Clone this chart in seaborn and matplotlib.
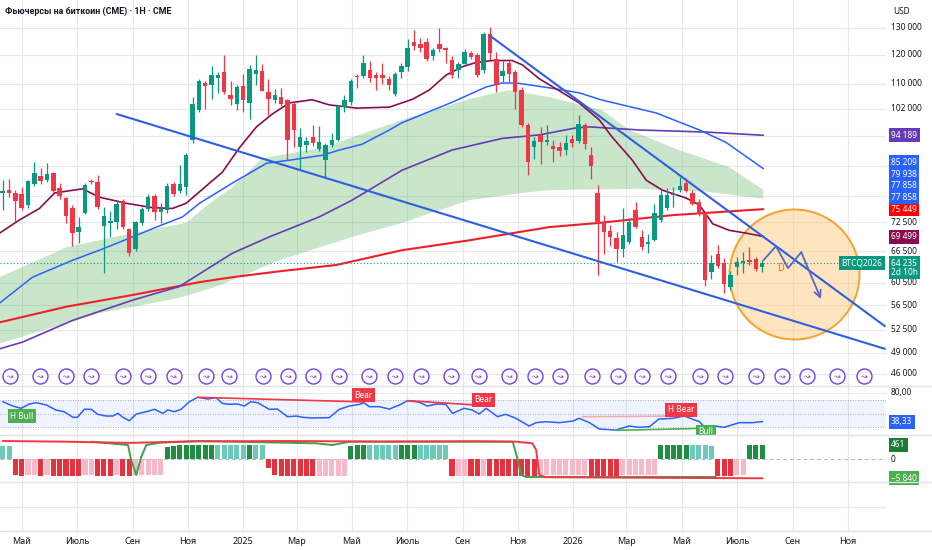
import numpy as np
import pandas as pd
import matplotlib as mpl
import matplotlib.pyplot as plt
import matplotlib.dates as mdates
import matplotlib.transforms as mtransforms
from matplotlib.lines import Line2D
import seaborn as sns

sns.set_style("white")
mpl.rcParams["font.family"] = ["Noto Sans", "DejaVu Sans"]

# ------------------------------------------------------------
# Data (prices in thousands of USD, weekly candles)
# ------------------------------------------------------------

open_k = [
    79.3, 79.9, 79.3, 79.0, 76.3, 81.3, 83.3, 82.3, 84.0, 80.3,
    78.1, 75.6, 70.4, 74.6, 82.1, 81.8, 71.7, 72.3, 72.6, 77.3,
    71.1, 67.0, 72.4, 75.4, 78.4, 74.9, 75.2, 81.3, 79.7, 80.6,
    92.8, 101.6, 110.3, 109.4, 111.9, 114.0, 106.3, 103.4, 109.2, 103.7,
    113.2, 114.3, 107.4, 104.7, 105.7, 104.7, 103.6, 91.0, 91.6, 93.6,
    90.3, 87.4, 91.4, 93.0, 102.6, 104.0, 112.5, 112.4, 114.6, 113.0,
    112.9, 111.6, 106.6, 114.0, 115.5, 124.7, 123.8, 124.7, 119.4, 123.9,
    122.5, 118.1, 114.7, 116.8, 120.6, 120.0, 114.6, 127.8, 118.6, 112.7,
    116.9, 114.0, 107.9, 97.2, 91.0, 94.3, 92.3, 91.2, 91.0, 90.1,
    93.1, 92.5, 97.2, 88.7, 79.3, 72.7, 70.6, 69.2, 67.0, 68.3,
    75.2, 69.3, 68.0, 68.8, 73.0, 75.6, 78.7, 79.8, 81.6, 79.1,
    77.1, 74.5, 62.5, 65.9, 64.2, 59.8, 63.4, 64.1, 64.7, 65.0, 63.5,
]
high_k = [
    82.3, 82.5, 79.9, 80.7, 82.3, 86.9, 85.5, 86.7, 84.4, 81.5,
    78.2, 76.3, 73.6, 81.5, 82.6, 83.7, 75.9, 75.1, 77.5, 77.8,
    71.4, 72.8, 75.9, 78.9, 78.9, 76.8, 81.5, 81.8, 86.1, 89.3,
    105.6, 111.4, 110.8, 115.9, 114.0, 120.0, 110.8, 109.6, 113.2, 116.4,
    120.0, 116.8, 111.5, 108.2, 108.5, 105.0, 104.0, 96.2, 93.6, 97.2,
    96.9, 92.1, 94.8, 103.3, 106.3, 111.5, 113.2, 119.7, 117.6, 114.0,
    117.0, 112.5, 114.0, 117.2, 125.6, 129.2, 126.0, 126.0, 122.3, 130.0,
    122.7, 119.4, 117.5, 122.0, 121.4, 120.5, 128.3, 130.3, 121.0, 117.7,
    118.0, 114.6, 109.0, 97.6, 93.8, 96.6, 97.2, 93.0, 92.4, 94.3,
    94.3, 100.0, 97.6, 91.0, 81.1, 74.1, 71.9, 70.5, 75.6, 73.4,
    77.1, 70.8, 70.1, 76.7, 79.9, 80.5, 80.7, 83.2, 82.8, 79.9,
    77.9, 75.1, 65.7, 67.7, 65.1, 62.7, 65.4, 66.3, 67.4, 65.4, 64.7,
]
low_k = [
    75.2, 78.3, 72.6, 75.2, 75.8, 80.9, 81.3, 81.8, 79.5, 77.9,
    72.3, 67.5, 68.2, 74.4, 81.3, 75.5, 62.2, 69.4, 71.0, 71.0,
    65.5, 66.6, 72.0, 75.0, 73.0, 72.3, 74.6, 78.5, 79.2, 78.7,
    91.9, 101.0, 101.8, 105.0, 107.1, 106.5, 103.2, 101.6, 101.1, 98.9,
    109.6, 107.5, 100.2, 103.8, 103.0, 87.4, 91.0, 85.2, 89.6, 91.2,
    89.9, 83.0, 90.9, 92.6, 101.1, 103.2, 108.5, 111.8, 110.5, 108.0,
    110.0, 108.0, 106.0, 111.8, 114.3, 121.8, 120.8, 117.6, 118.0, 121.0,
    116.9, 112.0, 112.0, 116.0, 118.5, 112.2, 113.6, 118.0, 107.3, 110.6,
    110.6, 101.8, 96.5, 83.6, 87.8, 86.5, 91.4, 87.0, 88.5, 88.7,
    91.0, 92.0, 90.5, 82.7, 61.9, 66.0, 67.5, 64.4, 65.4, 68.0,
    71.2, 66.7, 66.2, 68.5, 72.6, 75.2, 76.0, 79.4, 79.5, 76.4,
    73.9, 59.9, 61.1, 63.2, 58.6, 59.2, 61.9, 62.2, 63.8, 62.6, 62.5,
]
close_k = [
    79.7, 79.1, 77.4, 75.6, 82.0, 84.1, 82.1, 83.8, 79.7, 78.5,
    73.9, 70.2, 71.5, 81.2, 81.8, 75.9, 73.9, 72.9, 76.7, 71.6,
    66.2, 72.5, 75.4, 78.2, 74.9, 75.4, 81.0, 79.0, 81.3, 88.9,
    103.4, 111.0, 109.2, 112.9, 112.9, 107.2, 105.0, 108.9, 104.7, 114.9,
    114.6, 107.7, 104.9, 106.3, 103.6, 93.0, 95.7, 93.7, 92.6, 92.0,
    92.3, 91.4, 92.8, 102.9, 104.7, 111.0, 112.2, 116.9, 111.8, 111.9,
    111.9, 109.7, 113.2, 115.9, 122.4, 123.0, 122.5, 118.3, 121.7, 122.1,
    121.7, 112.9, 116.8, 121.0, 119.3, 112.9, 127.7, 120.5, 109.7, 114.3,
    113.1, 107.2, 97.2, 87.0, 92.6, 92.2, 92.9, 90.3, 89.8, 92.1,
    92.0, 97.5, 91.8, 85.8, 72.4, 70.4, 69.4, 67.0, 69.8, 72.6,
    71.5, 67.4, 68.3, 74.5, 78.7, 78.7, 79.0, 80.9, 79.7, 76.7,
    74.3, 61.0, 64.2, 63.6, 60.3, 61.9, 64.4, 64.5, 64.3, 63.0, 64.235,
]

# moving averages, sampled as (week index, price)
ma20_idx = [-0.5, 2.6, 5.8, 8.2, 12.6, 15.3, 19.5, 23.6, 26.8, 29.0,
            31.1, 34.7, 37.4, 40.1, 42.6, 45.3, 48.9, 51.6, 55.9, 61.1,
            64.7, 67.4, 70.1, 72.6, 74.8, 77.4, 80.5, 82.1, 84.8, 88.0,
            91.1, 94.3, 96.3, 99.5, 101.7, 104.2, 108.0, 110.1, 112.2, 114.8,
            117.5, 120.2]
ma20_k = [70.2, 73.0, 75.6, 79.2, 80.2, 78.2, 76.8, 75.8, 75.6, 76.8,
          79.5, 84.3, 90.7, 96.6, 100.4, 103.8, 104.8, 103.2, 102.2, 102.5,
          104.9, 107.9, 112.9, 115.7, 117.2, 117.9, 117.9, 116.4, 111.6, 107.6,
          103.8, 98.6, 93.7, 87.4, 82.3, 79.9, 78.0, 76.4, 72.2, 70.8,
          70.2, 69.499]

ma50_idx = [-0.5, 4.7, 11.0, 15.3, 20.5, 24.3, 28.4, 31.1, 36.3, 41.7,
            45.3, 50.5, 53.2, 56.8, 61.1, 63.1, 71.0, 76.4, 78.9, 81.2,
            86.4, 91.1, 94.7, 103.3, 110.1, 114.3, 120.2]
ma50_k = [56.9, 61.5, 64.7, 66.7, 69.4, 71.5, 73.7, 76.8, 81.6, 86.6,
          87.4, 88.7, 90.1, 91.7, 95.7, 97.8, 104.0, 108.9, 110.2, 110.2,
          108.6, 107.0, 104.7, 100.7, 95.7, 92.2, 85.209]

ma100_idx = [-0.5, 3.1, 11.0, 20.5, 27.9, 36.3, 42.1, 50.0, 55.2, 63.1,
             71.0, 78.9, 84.8, 90.6, 92.7, 100.6, 111.2, 120.2]
ma100_k = [49.6, 50.6, 54.0, 57.4, 59.8, 66.1, 69.4, 73.7, 77.5, 84.8,
           90.1, 93.3, 94.3, 96.3, 96.6, 95.7, 95.1, 94.189]

ma200_idx = [-0.5, 10.1, 20.5, 31.1, 36.3, 43.7, 52.7, 63.1, 73.7, 86.4,
             94.3, 105.8, 120.2]
ma200_k = [53.7, 56.3, 58.3, 60.6, 61.5, 62.6, 63.8, 66.7, 68.7, 71.5,
           72.4, 74.1, 75.449]

band_top_idx = [-0.5, 10.1, 20.5, 29.0, 32.2, 36.3, 41.0, 43.7, 50.5, 55.2,
                63.1, 73.7, 80.0, 86.4, 94.7, 99.0, 106.9, 114.8, 120.2]
band_top_k = [61.5, 67.3, 70.2, 72.4, 76.2, 80.6, 87.9, 88.7, 90.7, 93.6,
              98.6, 105.0, 107.9, 105.6, 101.6, 95.7, 90.1, 85.6, 79.938]
band_bot_idx = [-0.5, 15.3, 27.9, 33.8, 43.7, 55.2, 63.1, 73.7, 82.1, 86.4,
                100.6, 111.2, 120.2]
band_bot_k = [50.4, 55.2, 57.8, 59.8, 64.7, 69.4, 72.4, 77.5, 79.2, 79.9,
              80.2, 79.5, 77.858]

# drawn trend lines and projection
trend_low_idx = [18.0, 139.4]
trend_low_k = [100.4, 49.6]
trend_high_idx = [77.0, 139.4]
trend_high_k = [127.0, 53.1]
proj_idx = [120.2, 122.2, 124.1, 126.2, 129.3]
proj_k = [64.7, 67.5, 63.2, 66.3, 57.6]
zone_idx, zone_k = 125.1, 62.1
d_idx, d_k = 122.9, 63.3

# event markers along the bottom of the price pane
event_weeks = [1.1, 5.9, 10.0, 14.0, 19.0, 23.0, 27.0, 32.1, 35.8, 41.1,
               45.1, 49.1, 53.1, 57.9, 62.0, 66.1, 70.9, 75.2, 80.0, 84.1,
               88.1, 93.1, 97.2, 101.1, 105.2, 110.2, 114.2, 119.1, 123.1,
               127.1, 131.9, 136.1]

# price axis
tick_k = [130, 120, 110, 102, 94, 86, 78.5, 72.5, 66.5, 60.5, 56.5, 52.5, 49, 46]
tick_text = ["130 000", "120 000", "110 000", "102 000", "", "", "", "72 500",
             "66 500", "60 500", "56 500", "52 500", "49 000", "46 000"]
last_values = [94189, 85209, 79938, 77858, 77858, 75449, 69499]
last_colors = ["#673ab7", "#2962ff", "#2962ff", "#2962ff", "#2962ff",
               "#ff0000", "#880e4f"]
last_price = 64235

# RSI pane
rsi_idx = [0, 1.6, 2.9, 4.2, 5.3, 6.9, 8.4, 9.7, 11.1, 11.8,
           12.9, 14.0, 15.0, 16.3, 17.4, 18.2, 19.0, 20.0, 21.1, 22.7,
           24.0, 25.3, 26.1, 27.1, 28.2, 29.5, 30.8, 32.4, 33.7, 34.7,
           35.8, 37.1, 38.2, 39.2, 40.3, 42.1, 43.4, 45.0, 46.4, 47.4,
           49.0, 51.6, 53.2, 54.8, 56.4, 57.1, 57.9, 59.5, 61.1, 62.7,
           64.0, 65.8, 67.1, 68.5, 70.0, 71.1, 72.9, 74.2, 75.3, 76.4,
           78.2, 79.5, 81.1, 83.2, 84.3, 85.8, 88.0, 90.1, 91.1, 92.7,
           94.3, 96.9, 99.0, 100.6, 102.2, 103.7, 105.9, 107.7, 110.1, 111.1,
           112.2, 114.0, 116.4, 118.5, 120.1]
rsi_vals = [67.3, 61.0, 57.6, 63.9, 65.9, 62.5, 55.2, 52.7, 44.5, 44.5,
            56.2, 56.2, 48.9, 46.4, 46.4, 50.3, 44.5, 39.6, 49.3, 52.7,
            56.2, 50.3, 55.2, 52.7, 56.2, 67.3, 73.7, 71.2, 73.2, 64.9,
            63.5, 63.9, 61.0, 67.3, 65.9, 56.2, 56.6, 45.4, 46.4, 44.5,
            43.5, 44.0, 56.2, 61.0, 63.5, 65.9, 60.0, 60.0, 56.6, 62.5,
            68.8, 66.6, 61.0, 63.9, 63.5, 50.3, 57.6, 55.2, 49.3, 57.6,
            45.4, 48.9, 43.0, 31.8, 36.7, 38.1, 36.7, 39.1, 43.0, 36.7,
            27.4, 26.0, 31.8, 29.9, 30.8, 42.0, 43.0, 46.4, 38.1, 28.4,
            32.3, 29.9, 36.7, 36.7, 38.33]
div_lines = [
    ([30.8, 57.1], [73.7, 67.0], "#f23645"),
    ([64.0, 76.4], [68.8, 61.5], "#f23645"),
    ([91.6, 106.9], [45.4, 46.4], "#f7a8b0"),
    ([96.9, 111.1], [25.5, 28.5], "#4caf50"),
]
div_labels = [
    (3.0, 46.4, "H Bull", "#4caf50"),
    (57.0, 76.6, "Bear", "#f23645"),
    (76.0, 70.2, "Bear", "#f23645"),
    (107.2, 55.9, "H Bear", "#f23645"),
    (111.1, 23.1, "Bull", "#4caf50"),
]

# histogram pane
hist_vals = [
    440, 440, -526, -560, -540, -540, -550, -540, -560, -560,
    -560, -560, -560, -540, -540, -560, -560, -560, -540, -560,
    -560, -540, -540, -540, -540, -540, 405, 440, 460, 460,
    460, 460, 460, 460, 460, 460, 460, 460, 460, 460,
    460, 460, -300, -540, -560, -560, -560, -560, -560, -560,
    -560, -560, -560, -560, -560, 420, 450, 460, 460, 460,
    460, 460, 460, 470, 470, 470, 460, 460, 460, 460,
    460, -560, -560, -560, -560, -560, -560, -560, -560, -560,
    -560, -560, -560, -560, -560, -540, -540, -540, -540, -540,
    -540, -540, -540, -560, -560, -560, -560, -560, -530, -530,
    -530, -530, -530, -530, 470, 470, 470, 470, 470, 460,
    460, 460, 420, -560, -560, -560, -540, -540, 461, 461, 461,
]
hist_codes = ("TTRRPPRPRR" "RRRPPRRRPR" "RPPPPPGGGG" "GGGGTTTTTG"
              "TTRRRRRRRR" "PPPPPGGGTT" "TTTGGGTTTT" "TRPPRRPRRR"
              "RRRRRPPPPP" "PPPRRRRRPP" "PPPPGGGGGT" "TTTRRRPPGGG")
sig_red_idx = [0, 10, 20, 30, 45, 60, 75, 81.1, 83.7, 84.3, 84.8, 85.8, 100, 120.1]
sig_red_vals = [592, 570, 530, 580, 592, 575, 585, 570, 517, 296, -526, -600, -615, -635]
sig_green_idx = [14.0, 19.8, 20.3, 21.1, 21.9, 22.7, 24.8, 31.1, 49.5, 52.1,
                 54.8, 80.6, 81.4, 81.9, 82.7, 112.7]
sig_green_vals = [570, 460, -33, -526, 76, 460, 536, 592, 516, 460,
                  570, 570, -33, -526, -592, -592]

month_labels = ["Май", "Июль", "Сен", "Ноя", "2025", "Мар", "Май", "Июль",
                "Сен", "Ноя", "2026", "Мар", "Май", "Июль", "Сен", "Ноя"]

# ------------------------------------------------------------
# Layout / style
# ------------------------------------------------------------

W, H = 932, 550
PLOT_W = 886
MAIN_H = 386
PX_PER_DAY = 0.904
YMIN, YMAX = 44.36, 141.4

GREEN = "#089981"
RED = "#f23645"
GRID = "#e6e8ed"
TEXT = "#131722"

week0 = mdates.date2num(pd.Timestamp("2024-04-10"))
x_left = mdates.date2num(pd.Timestamp("2024-04-07"))
x_right = x_left + PLOT_W / PX_PER_DAY


def wk(idx):
    return week0 + 7 * np.asarray(idx, dtype=float)


fig = plt.figure(figsize=(W / 100, H / 100), dpi=100)


def pane(top, bottom):
    a = fig.add_axes([0, 1 - bottom / H, PLOT_W / W, (bottom - top) / H])
    for s in a.spines.values():
        s.set_visible(False)
    return a


ax = pane(0, 386)
ax_rsi = pane(386, 435)
ax_hist = pane(435, 482)
ax_empty = pane(482, 531)

month_x = mdates.date2num(pd.date_range("2024-05-01", periods=len(month_labels), freq="2MS"))

for a in (ax, ax_rsi, ax_hist, ax_empty):
    a.set_xlim(x_left, x_right)
    a.set_xticks(month_x)
    a.grid(True, axis="x", color=GRID, linewidth=0.8)
    a.tick_params(axis="both", length=0, labelleft=False, labelbottom=False)
    a.set_axisbelow(True)


def line(a, idx, vals, color, lw, z=2, ls="-"):
    sns.lineplot(x=wk(idx), y=np.asarray(vals, dtype=float), ax=a, color=color,
                 linewidth=lw, estimator=None, sort=False, zorder=z, linestyle=ls)


def right_label(a, y, text, color=None, trans=None, x_px=891, size=6.0):
    trans = trans or a.transAxes
    kw = dict(transform=trans, ha="left", va="center", fontsize=size, clip_on=False)
    if color is None:
        a.text(x_px / PLOT_W, y, text, color=TEXT, **kw)
    else:
        a.text(x_px / PLOT_W, y, text, color="white",
               bbox=dict(boxstyle="square,pad=0.3", fc=color, ec="none"), **kw)


def fmt(v):
    return f"{v:,.0f}".replace(",", " ")


def main_frac(v_k):
    return (np.log(v_k) - np.log(YMIN)) / (np.log(YMAX) - np.log(YMIN))


# ------------------------------------------------------------
# Price pane
# ------------------------------------------------------------

ax.set_yscale("log")
ax.set_ylim(YMIN, YMAX)
ax.set_yticks(tick_k)
ax.yaxis.set_minor_locator(mpl.ticker.NullLocator())
ax.grid(True, axis="y", color=GRID, linewidth=0.8)
ax.tick_params(axis="y", which="both", length=0, labelleft=False)

# cloud band
bx = np.r_[wk(band_top_idx), wk(band_bot_idx)[::-1]]
by = np.r_[band_top_k, band_bot_k[::-1]]
ax.fill(bx, by, color="#4caf50", alpha=0.3, lw=0, zorder=1)

# target zone
ax.scatter([wk(zone_idx)], [zone_k], s=(130 * 0.72) ** 2,
           facecolor=(1.0, 0.80, 0.50, 0.5), edgecolor="#f4a22d",
           linewidth=1.4, zorder=1.5)

line(ax, ma200_idx, ma200_k, "#f01e2c", 1.5)
line(ax, ma100_idx, ma100_k, "#673ab7", 1.2)
line(ax, ma50_idx, ma50_k, "#2962ff", 1.1)
line(ax, ma20_idx, ma20_k, "#880e4f", 1.2)

# candles
o, h, l, c = (np.asarray(v) for v in (open_k, high_k, low_k, close_k))
cx = wk(np.arange(len(o)))
col = np.where(c >= o, GREEN, RED)
ax.vlines(cx, l, h, colors=col, linewidth=0.9, zorder=3)
body_lo = np.minimum(o, c)
body_h = np.maximum(np.abs(c - o), body_lo * 0.004)
ax.bar(cx, body_h, bottom=body_lo, width=4.9, color=col, linewidth=0, zorder=3)

ax.axhline(last_price / 1000, color=GREEN, linestyle=(0, (1, 2)), linewidth=0.8, zorder=2)

# trend lines
line(ax, trend_low_idx, trend_low_k, "#2f5fe0", 1.5, z=4)
line(ax, trend_high_idx, trend_high_k, "#2f5fe0", 1.5, z=4)

# projection path
line(ax, proj_idx[:-1], proj_k[:-1], "#5468c4", 1.3, z=5)
ax.annotate("", xy=(wk(proj_idx[-1]), proj_k[-1]),
            xytext=(wk(proj_idx[-2]), proj_k[-2]),
            arrowprops=dict(arrowstyle="->", color="#5468c4", lw=1.3,
                            mutation_scale=12, shrinkA=0, shrinkB=0), zorder=5)
ax.text(wk(d_idx), d_k, "D", color="#f57c00", fontsize=7.5, ha="center",
        va="center", zorder=6, family="Roboto")

# event markers
trans_ev = mtransforms.blended_transform_factory(ax.transData, ax.transAxes)
ev_x = wk(event_weeks)
ax.scatter(ev_x, [0.026] * len(ev_x), transform=trans_ev, s=(15 * 0.72) ** 2,
           facecolor="white", edgecolor="#6f42e8", linewidth=1.0, zorder=6, clip_on=False)
for xv in ev_x:
    ax.text(xv, 0.026, "↝", transform=trans_ev, ha="center", va="center",
            fontsize=5.5, color="#6f42e8", family="DejaVu Sans", zorder=7)

# title
ax.text(5 / PLOT_W, 1 - 11 / MAIN_H, "Фьючерсы на биткоин (CME) · 1Н · CME",
        transform=ax.transAxes, fontsize=6.4, fontweight="bold", color=TEXT,
        ha="left", va="center", family=["Roboto", "DejaVu Sans"])

# price scale text
ax.text(893 / PLOT_W, 1 - 11 / MAIN_H, "USD", transform=ax.transAxes,
        fontsize=6, color=TEXT, ha="left", va="center", clip_on=False)
for v, t in zip(tick_k, tick_text):
    if t:
        right_label(ax, main_frac(v), t)

# last-value labels, pushed apart so they do not overlap
gap = 11.7
px = [(1 - main_frac(v / 1000)) * MAIN_H for v in last_values]
order = np.argsort(px)[::-1]
prev = np.inf
for i in order:
    y_px = min(px[i], prev - gap)
    prev = y_px
    right_label(ax, 1 - y_px / MAIN_H, fmt(last_values[i]), last_colors[i])

lp_px = (1 - main_frac(last_price / 1000)) * MAIN_H
ax.text(891 / PLOT_W, 1 - (lp_px + 5) / MAIN_H, fmt(last_price) + "\n2d 10h",
        transform=ax.transAxes, ha="left", va="center", fontsize=6,
        color="white", linespacing=1.05, clip_on=False,
        bbox=dict(boxstyle="square,pad=0.3", fc=GREEN, ec="none"))
ax.text(882 / PLOT_W, 1 - lp_px / MAIN_H, "BTCQ2026", transform=ax.transAxes,
        ha="right", va="center", fontsize=6, color="white", clip_on=False, zorder=8,
        bbox=dict(boxstyle="square,pad=0.3", fc=GREEN, ec="none"))

# ------------------------------------------------------------
# RSI pane
# ------------------------------------------------------------

ax_rsi.set_ylim(18.7, 90.2)
ax_rsi.axhspan(30, 70, color="#2962ff", alpha=0.07, lw=0)
for lvl in (70, 50, 30):
    ax_rsi.axhline(lvl, color="#9598a1", linestyle=(0, (1, 2)), linewidth=0.6)
ax_rsi.axhline(80, color=GRID, linewidth=0.8)
line(ax_rsi, rsi_idx, rsi_vals, "#2962ff", 1.1, z=3)
for xs, ys, colr in div_lines:
    line(ax_rsi, xs, ys, colr, 1.2, z=3)
for xi, yv, t, colr in div_labels:
    ax_rsi.text(wk(xi), yv, t, fontsize=6, color="white", ha="center", va="center",
                zorder=5, clip_on=True,
                bbox=dict(boxstyle="square,pad=0.3", fc=colr, ec="none"))

trans_rsi = mtransforms.blended_transform_factory(ax_rsi.transAxes, ax_rsi.transData)
right_label(ax_rsi, 80, "80,00", trans=trans_rsi)
right_label(ax_rsi, rsi_vals[-1], "38,33", "#2962ff", trans=trans_rsi)

# ------------------------------------------------------------
# Histogram pane
# ------------------------------------------------------------

hist_palette = {"G": "#1f8f3f", "T": "#6ccbb8", "R": "#e8313f", "P": "#f7b8c8"}
ax_hist.set_ylim(-757, 790)
ax_hist.axhline(0, color="#b2b5be", linestyle=(0, (4, 3)), linewidth=0.7, zorder=1)
ax_hist.bar(wk(np.arange(len(hist_vals))), hist_vals, width=5.6,
            color=[hist_palette[k] for k in hist_codes], linewidth=0, zorder=2)
line(ax_hist, sig_green_idx, sig_green_vals, "#43a047", 1.4, z=3)
line(ax_hist, sig_red_idx, sig_red_vals, "#f23645", 1.4, z=4)

trans_h = mtransforms.blended_transform_factory(ax_hist.transAxes, ax_hist.transData)
right_label(ax_hist, hist_vals[-1], "461", "#1b7d34", trans=trans_h)
right_label(ax_hist, 0, "0", trans=trans_h)
right_label(ax_hist, sig_red_vals[-1], "−5 840", "#4caf50", trans=trans_h)

# ------------------------------------------------------------
# Empty pane + time axis
# ------------------------------------------------------------

ax_empty.set_ylim(0, 1)
ax_empty.set_yticks([0.5])
ax_empty.grid(True, axis="y", color=GRID, linewidth=0.8)
ax_empty.tick_params(axis="x", labelbottom=True, pad=4, labelsize=6.5, colors=TEXT)
ax_empty.set_xticklabels(month_labels)
for lab in ax_empty.get_xticklabels():
    if lab.get_text().isdigit():
        lab.set_fontweight("bold")

# pane separators
for y_px in (386, 435, 482, 531):
    fig.add_artist(Line2D([0, 1], [1 - y_px / H] * 2, transform=fig.transFigure,
                          color="#dfe1e6", linewidth=1.0))

fig.savefig("out.png", dpi=100)
